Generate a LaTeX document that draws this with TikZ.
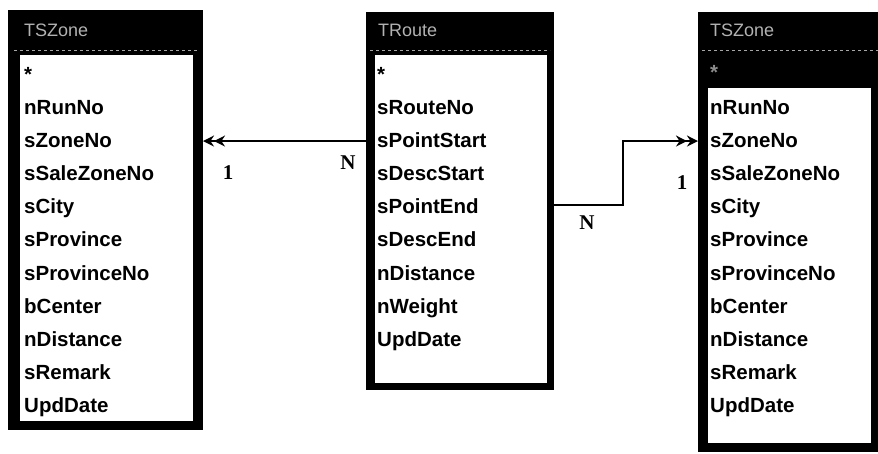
\documentclass[tikz,border=0pt]{standalone}
\usepackage{fontspec}
\setmainfont{Liberation Sans}
\newfontfamily\serifb{Liberation Serif}
\usetikzlibrary{arrows.meta}
\begin{document}
\begin{tikzpicture}[x=1pt,y=-1pt,
  frame/.style={fill=black, draw=none, inner sep=0pt, outer sep=0pt, anchor=north west},
  body/.style={fill=white, draw=none, inner sep=0pt, outer sep=0pt, anchor=north west},
  ttl/.style={anchor=base west, inner sep=0pt, font=\fontsize{18}{18}\selectfont, text=black!30},
  field/.style={anchor=base west, inner sep=0pt, font=\fontsize{20.5}{20.5}\selectfont\bfseries},
  card/.style={anchor=base, inner sep=0pt, font=\serifb\fontsize{21}{21}\selectfont\bfseries},
  rel/.style={line width=2.4pt},
  dbl/.style={-{Stealth[length=11pt,width=11pt]Stealth[length=11pt,width=11pt]}},
  sepline/.style={black!35, dashed, line width=0.8pt}]
\useasboundingbox[fill=white] (0,0) rectangle (878,454);

% left table TSZone
\node[frame, minimum width=195pt, minimum height=420pt] (lz) at (8,10) {};
\node[body, minimum width=173pt, minimum height=366pt] (lzb) at (20,55) {};
\draw[sepline] (14,50) -- (198,50);
\node[ttl] (lzt) at (24,37) {TSZone};
\node[field] (lzs) at (24,82) {*};
\foreach \t [count=\i] in {nRunNo,sZoneNo,sSaleZoneNo,sCity,sProvince,sProvinceNo,bCenter,nDistance,sRemark,UpdDate}
  \node[field] (lz\i) at (24,{82+33*\i}) {\t};

% middle table TRoute
\node[frame, minimum width=188pt, minimum height=378pt] (rt) at (366,12) {};
\node[body, minimum width=172pt, minimum height=328pt] (rtb) at (375,55) {};
\draw[sepline] (370,50) -- (550,50);
\node[ttl] (rtt) at (378,37) {TRoute};
\node[field] (rts) at (377,82) {*};
\foreach \t [count=\i] in {sRouteNo,sPointStart,sDescStart,sPointEnd,sDescEnd,nDistance,nWeight,UpdDate}
  \node[field] (rt\i) at (377,{82+33*\i}) {\t};

% right table TSZone
\node[frame, minimum width=180pt, minimum height=440pt] (rz) at (698,12) {};
\node[body, minimum width=163pt, minimum height=355pt] (rzb) at (708,88) {};
\draw[sepline] (702,50) -- (878,50);
\node[ttl] (rzt) at (710,37) {TSZone};
\node[field, text=black!45] (rzs) at (710,80) {*};
\foreach \t [count=\i] in {nRunNo,sZoneNo,sSaleZoneNo,sCity,sProvince,sProvinceNo,bCenter,nDistance,sRemark,UpdDate}
  \node[field] (rz\i) at (710,{82+33*\i}) {\t};

% relationships
\draw[rel, dbl] (rt.west |- lz2) -- (lz.east |- lz2);
\coordinate (bend) at (623,205);
\draw[rel, dbl] (rt.east |- bend) -- (bend) |- (rz.west |- rz2);

% cardinalities
\node[card] (c1) at (228,180) {1};
\node[card] (c2) at (348,170) {N};
\node[card] (c3) at (587,230) {N};
\node[card] (c4) at (682,190) {1};
\end{tikzpicture}
\end{document}
